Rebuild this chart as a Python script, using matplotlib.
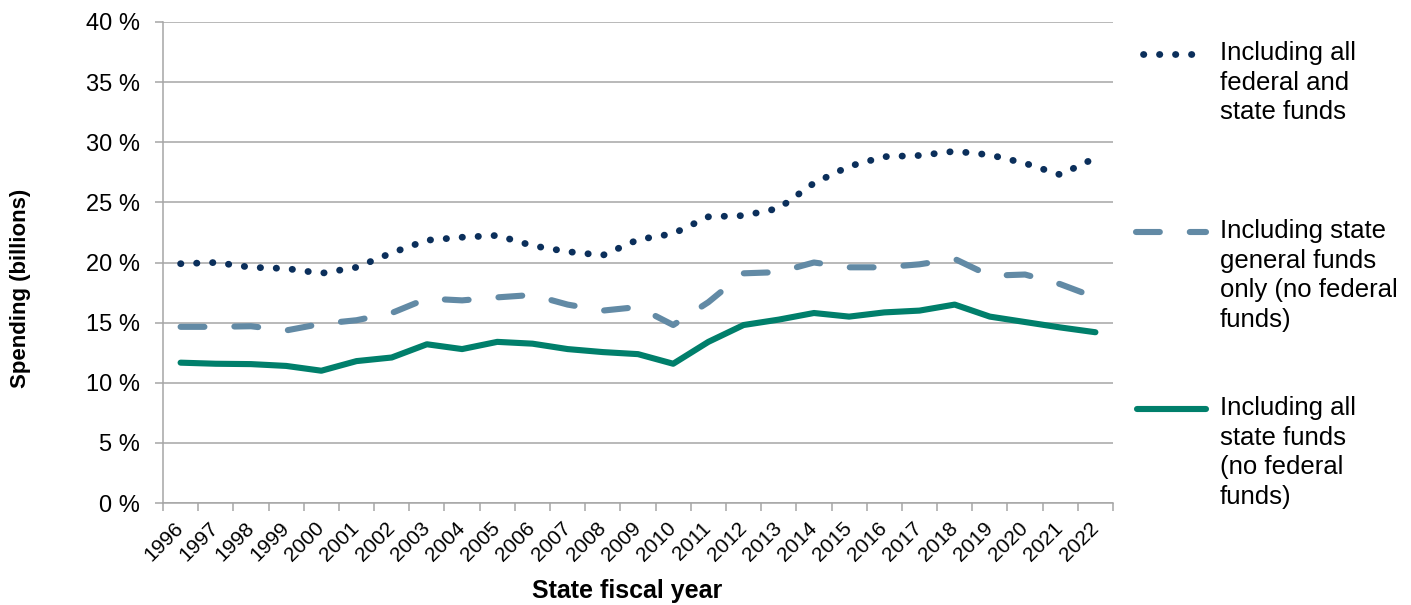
import matplotlib
matplotlib.use("Agg")
import matplotlib.pyplot as plt
from matplotlib.lines import Line2D
import numpy as np

plt.rcParams['font.family'] = ['Liberation Sans', 'DejaVu Sans']

years = [str(y) for y in range(1996, 2023)]

# percent values
all_federal_state = [19.9, 20.0, 19.6, 19.5, 19.1, 19.6, 20.8, 21.85, 22.1, 22.25,
                     21.4, 20.9, 20.6, 21.9, 22.4, 23.8, 23.9, 24.5, 26.6, 28.0,
                     28.8, 28.9, 29.25, 28.95, 28.25, 27.3, 28.7]
state_general_only = [14.65, 14.65, 14.7, 14.35, 14.9, 15.2, 15.8, 17.0, 16.85, 17.1,
                      17.3, 16.5, 16.0, 16.3, 14.8, 16.7, 19.1, 19.2, 20.0, 19.6,
                      19.6, 19.85, 20.3, 18.9, 19.0, 18.2, 17.1]
all_state = [11.67, 11.58, 11.55, 11.4, 11.0, 11.8, 12.1, 13.2, 12.8, 13.4,
             13.25, 12.8, 12.55, 12.38, 11.58, 13.4, 14.8, 15.25, 15.8, 15.5,
             15.85, 16.0, 16.5, 15.5, 15.05, 14.6, 14.2]

labels = ["Including all\nfederal and\nstate funds",
          "Including state\ngeneral funds\nonly (no federal\nfunds)",
          "Including all\nstate funds\n(no federal\nfunds)"]

navy = "#0b2f5b"
slate = "#628aa5"
teal = "#007f6b"
grid_c = "#a6a6a6"

W, H = 1411, 605
fig = plt.figure(figsize=(W / 100, H / 100), dpi=100)
ax = fig.add_axes([163 / W, 1 - 503 / H, (1113 - 163) / W, (503 - 22) / H])

x = np.arange(len(years))
lw = 4.4
dot_lw = 4.9
dots = (0, (0.05, 2.3))
dashes = (0, (3.9, 4.9))
ax.plot(x, all_federal_state, color=navy, lw=dot_lw, linestyle=dots,
        dash_capstyle='round')
ax.plot(x, state_general_only, color=slate, lw=lw, linestyle=dashes,
        dash_capstyle='round')
ax.plot(x, all_state, color=teal, lw=lw, solid_capstyle='round', solid_joinstyle='round')

ax.set_xlim(-0.5, len(years) - 0.5)
ax.set_ylim(0, 40)
ax.set_yticks(np.arange(0, 41, 5))
ax.set_yticklabels([f"{v} %" for v in range(0, 41, 5)], fontsize=17)
ax.yaxis.grid(True, color=grid_c, lw=1.1)
ax.set_axisbelow(True)

ax.set_xticks(np.arange(-0.5, len(years)), minor=False)
ax.set_xticklabels([])
ax.set_xticks(x, minor=True)
ax.set_xticklabels(years, minor=True, rotation=45, ha='right', va='center',
                   rotation_mode='anchor', fontsize=15)
ax.tick_params(axis='x', which='minor', length=0, pad=16)
ax.tick_params(axis='x', which='major', length=6, color=grid_c, width=1.1)
ax.tick_params(axis='y', length=6, color=grid_c, width=1.1, pad=10.5)

for s in ['top', 'right']:
    ax.spines[s].set_visible(False)
for s in ['left', 'bottom']:
    ax.spines[s].set_color(grid_c)
    ax.spines[s].set_linewidth(1.1)

fig.text(21 / W, 1 - 288 / H, "Spending (billions)", rotation=90, fontsize=16,
         fontweight='bold', ha='center', va='center')
fig.text(627 / W, 1 - 591 / H, "State fiscal year", fontsize=18,
         fontweight='bold', ha='center', va='center')

# legend drawn by hand: handle beside first text line
entries = [
    (54, navy, dots, dot_lw, 1143, labels[0]),
    (232, slate, dashes, lw, 1136, labels[1]),
    (409, teal, '-', lw, 1137, labels[2]),
]
for yy, col, ls, w, x0, lab in entries:
    fig.add_artist(Line2D([x0 / W, 1206 / W], [1 - yy / H, 1 - yy / H],
                          transform=fig.transFigure, color=col, lw=w,
                          linestyle=ls, dash_capstyle='round', solid_capstyle='round'))
    fig.text(1220 / W, 1 - (yy - 13) / H, lab, fontsize=18.5, ha='left', va='top',
             linespacing=1.3)

fig.savefig("out.png", dpi=100)
